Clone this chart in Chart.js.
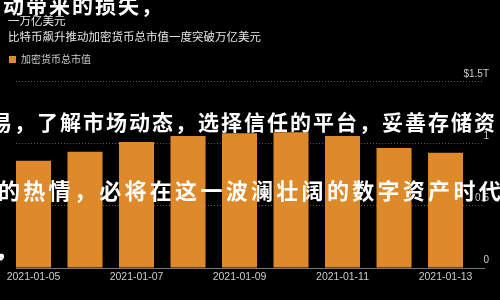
<!DOCTYPE html>
<html><head><meta charset="utf-8">
<script src="https://cdn.jsdelivr.net/npm/chart.js@4"></script>
<style>
html,body{margin:0;padding:0;background:#000;}
#wrap{position:relative;width:500px;height:300px;overflow:hidden;background:#000;}
canvas{position:absolute;left:0;top:0;}
.wm{position:absolute;white-space:nowrap;color:#fff;font-family:"Noto Sans CJK SC";font-weight:700;line-height:1;}
</style></head><body>
<div id="wrap"><canvas id="c" width="500" height="300"></canvas>
<div class="wm" id="w1" style="left:3px;top:-6px;font-size:21px;letter-spacing:2px"></div>
<div class="wm" id="w2" style="left:-9px;top:111px;font-size:21px;letter-spacing:2px"></div>
<div class="wm" id="w3" style="left:-2px;top:178px;font-size:22px;letter-spacing:3.3px"></div>
<div class="wm" id="w4" style="left:-3px;top:241px;font-size:18px;letter-spacing:-11px"></div>
</div>
<script>
const dates = ['2021-01-05','2021-01-06','2021-01-07','2021-01-08','2021-01-09','2021-01-10','2021-01-11','2021-01-12','2021-01-13'];
const marketCap = [0.865,0.937,1.016,1.063,1.087,1.095,1.063,0.968,0.929];
const yTicks = [0,0.5,1,1.5];
const yTickLabels = ['0','0.5','1','$1.5T'];
const xTickIdx = [0,2,4,6,8];
const titleLines = ['一万亿美元','比特币飙升推动加密货币总市值一度突破万亿美元'];
const seriesName = '加密货币总市值';
const overlayLines = ['动带来的损失，','易，了解市场动态，选择信任的平台，妥善存储资','的热情，必将在这一波澜壮阔的数字资产时代','，，'];

overlayLines.forEach((t,i)=>{document.getElementById('w'+(i+1)).textContent=t;});

const ORANGE = '#DF8A2A';
new Chart(document.getElementById('c'), {
  type: 'bar',
  data: {
    datasets: [{
      label: seriesName,
      data: marketCap.map((v,i)=>({x:i,y:v})),
      backgroundColor: ORANGE,
      borderWidth: 0,
      categoryPercentage: 1,
      barPercentage: 0.68
    }]
  },
  options: {
    responsive: false,
    animation: false,
    devicePixelRatio: 1,
    layout: {padding: {left: 8, right: 11, top: 0, bottom: 13.4}},
    plugins: {
      tooltip: {enabled: false},
      title: {
        display: true,
        text: titleLines,
        align: 'start',
        color: '#e6e6e6',
        font: {family: '"Noto Sans CJK SC"', size: 11.5, weight: 'normal', lineHeight: 1.4},
        padding: {top: 12.45, bottom: 8.85}
      },
      legend: {
        display: true,
        align: 'start',
        labels: {
          color: '#cccccc',
          boxWidth: 7,
          boxHeight: 7,
          padding: 1,
          font: {family: '"Noto Sans CJK SC"', size: 10}
        }
      }
    },
    scales: {
      x: {
        type: 'linear',
        offset: false,
        min: -0.3398,
        max: 8.747,
        afterBuildTicks: s => { s.ticks = xTickIdx.map(v => ({value: v})); },
        grid: {display: false, drawTicks: false, offset: false},
        border: {display: true, color: '#7a7a7a', width: 1},
        ticks: {
          color: '#cccccc',
          padding: 3,
          maxRotation: 0,
          autoSkip: false,
          font: {family: '"Liberation Sans"', size: 10.5},
          callback: v => dates[v] || ''
        }
      },
      y: {
        position: 'right',
        min: 0,
        max: 1.5595,
        afterBuildTicks: s => { s.ticks = yTicks.map(v => ({value: v})); },
        afterFit: s => { s.width = 5; },
        grid: {
          drawTicks: false,
          color: c => (c.tick && c.tick.value === 0) ? 'rgba(0,0,0,0)' : '#5a5a5a',
          lineWidth: 1
        },
        border: {display: false, dash: [1, 2]},
        ticks: {
          color: '#cccccc',
          mirror: true,
          padding: 5,
          labelOffset: -8,
          font: {family: '"Liberation Sans"', size: 10},
          callback: v => { const k = yTicks.indexOf(v); return k >= 0 ? yTickLabels[k] : ''; }
        }
      },
      yl: {
        position: 'left',
        display: true,
        min: 0, max: 1,
        afterFit: s => { s.width = 8; },
        grid: {display: false, drawTicks: false},
        border: {display: false},
        ticks: {display: false}
      }
    }
  }
});
</script>
</body></html>
